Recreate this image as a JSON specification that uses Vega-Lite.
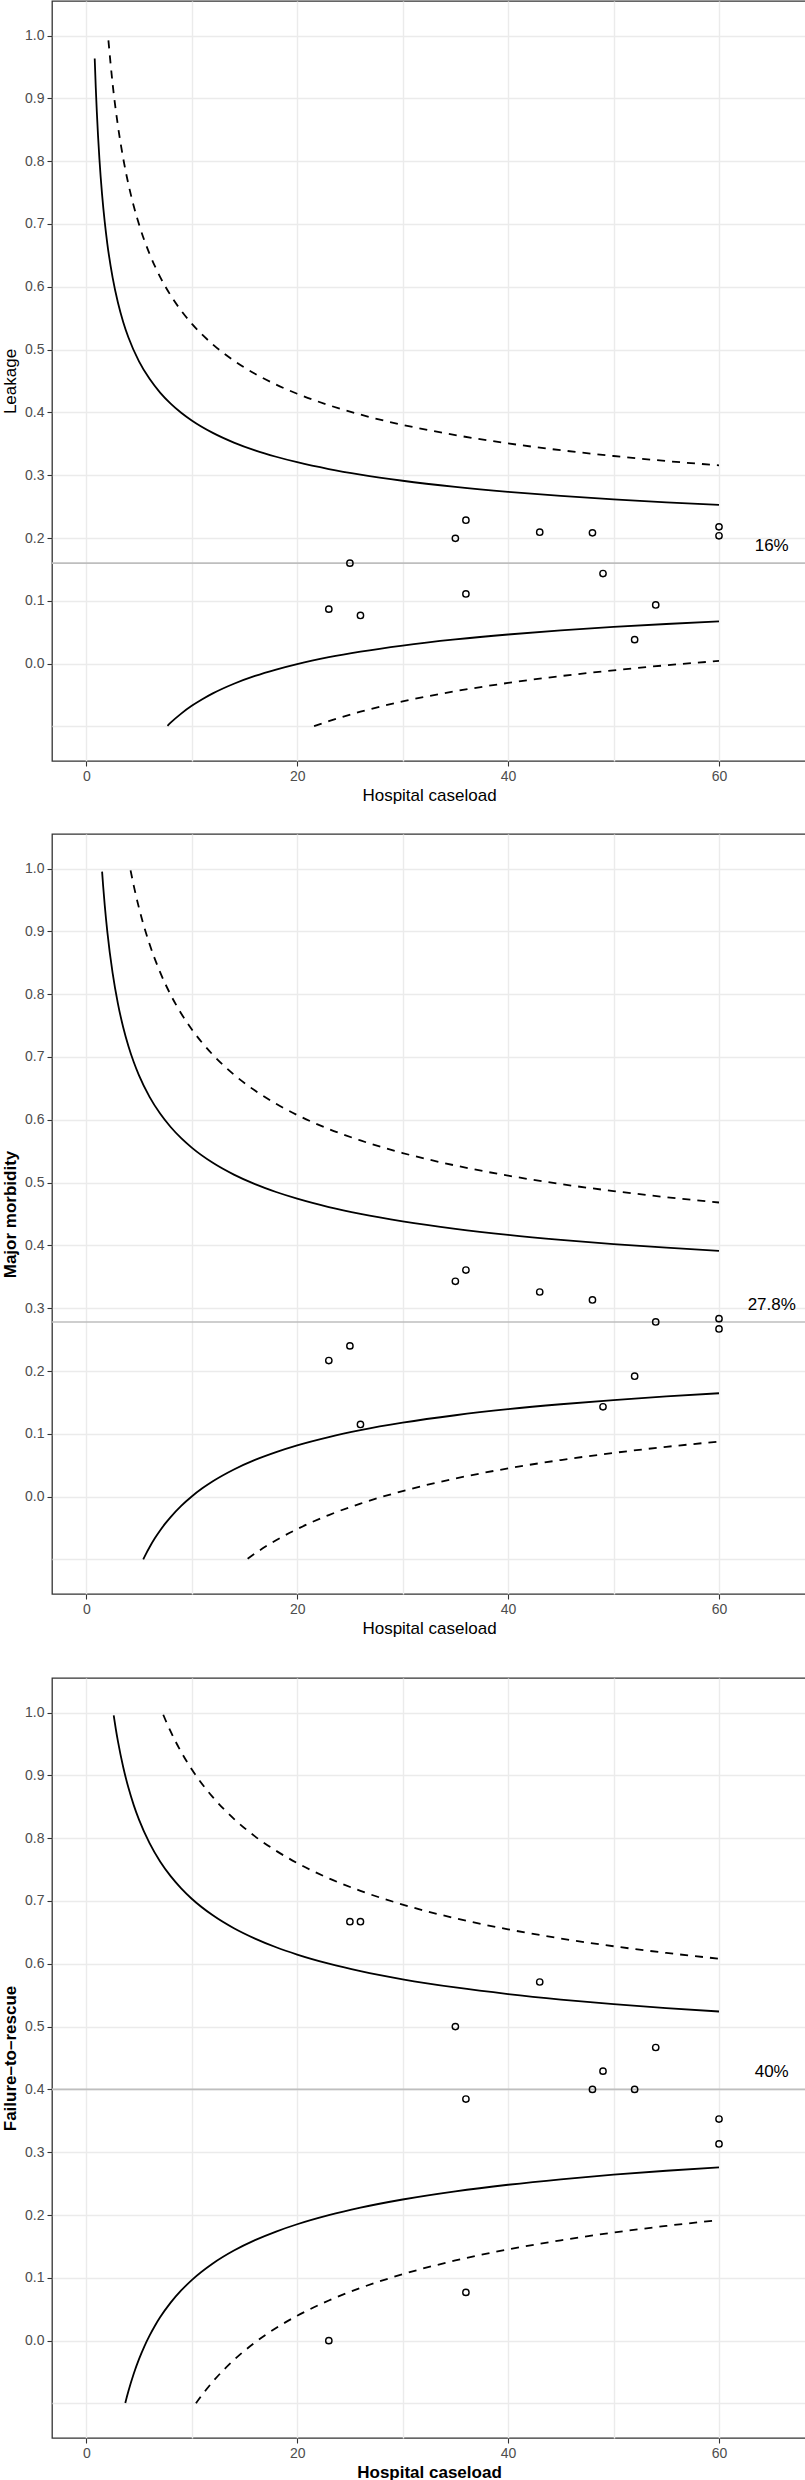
{
  "$schema": "https://vega.github.io/schema/vega-lite/v6.json",
  "padding": 0,
  "background": "white",
  "config": {
    "font": "Liberation Sans",
    "view": {"stroke": "#333333", "strokeWidth": 1.3},
    "axis": {
      "domain": false,
      "gridColor": "#EBEBEB",
      "gridWidth": 1.4,
      "tickColor": "#333333",
      "tickWidth": 1.1,
      "tickSize": 5,
      "labelColor": "#4D4D4D",
      "labelFont": "Liberation Sans",
      "labelFontSize": 14,
      "labelPadding": 3,
      "labelOverlap": false,
      "labelFlush": false,
      "titleFont": "Liberation Sans",
      "titleFontSize": 17,
      "titleFontWeight": "normal",
      "titleColor": "black",
      "titlePadding": 5
    }
  },
  "datasets": {
    "curves": [
      {"p":1,"c":"u95","n":0.8,"v":0.9634},{"p":1,"c":"u95","n":0.9,"v":0.9174},{"p":1,"c":"u95","n":1,"v":0.8786},{"p":1,"c":"u95","n":1.25,"v":0.8027},{"p":1,"c":"u95","n":1.5,"v":0.7467},{"p":1,"c":"u95","n":1.75,"v":0.7032},{"p":1,"c":"u95","n":2,"v":0.6681},{"p":1,"c":"u95","n":2.5,"v":0.6145},{"p":1,"c":"u95","n":3,"v":0.5749},{"p":1,"c":"u95","n":3.5,"v":0.5441},{"p":1,"c":"u95","n":4,"v":0.5193},{"p":1,"c":"u95","n":5,"v":0.4813},{"p":1,"c":"u95","n":6,"v":0.4534},{"p":1,"c":"u95","n":7,"v":0.4316},{"p":1,"c":"u95","n":8,"v":0.4140},{"p":1,"c":"u95","n":9,"v":0.3995},{"p":1,"c":"u95","n":10,"v":0.3872},{"p":1,"c":"u95","n":12,"v":0.3674},{"p":1,"c":"u95","n":14,"v":0.3520},{"p":1,"c":"u95","n":16,"v":0.3396},{"p":1,"c":"u95","n":18,"v":0.3294},{"p":1,"c":"u95","n":20,"v":0.3207},{"p":1,"c":"u95","n":23,"v":0.3098},{"p":1,"c":"u95","n":26,"v":0.3009},{"p":1,"c":"u95","n":30,"v":0.2912},{"p":1,"c":"u95","n":35,"v":0.2815},{"p":1,"c":"u95","n":40,"v":0.2736},{"p":1,"c":"u95","n":45,"v":0.2671},{"p":1,"c":"u95","n":50,"v":0.2616},{"p":1,"c":"u95","n":55,"v":0.2569},{"p":1,"c":"u95","n":60,"v":0.2528},
      {"p":1,"c":"l95","n":7.7,"v":-0.0990},{"p":1,"c":"l95","n":8,"v":-0.0940},{"p":1,"c":"l95","n":9,"v":-0.0795},{"p":1,"c":"l95","n":10,"v":-0.0672},{"p":1,"c":"l95","n":11,"v":-0.0567},{"p":1,"c":"l95","n":12,"v":-0.0474},{"p":1,"c":"l95","n":14,"v":-0.0320},{"p":1,"c":"l95","n":16,"v":-0.0196},{"p":1,"c":"l95","n":18,"v":-0.0094},{"p":1,"c":"l95","n":20,"v":-0.0007},{"p":1,"c":"l95","n":23,"v":0.0102},{"p":1,"c":"l95","n":26,"v":0.0191},{"p":1,"c":"l95","n":30,"v":0.0288},{"p":1,"c":"l95","n":35,"v":0.0385},{"p":1,"c":"l95","n":40,"v":0.0464},{"p":1,"c":"l95","n":45,"v":0.0529},{"p":1,"c":"l95","n":50,"v":0.0584},{"p":1,"c":"l95","n":55,"v":0.0631},{"p":1,"c":"l95","n":60,"v":0.0672},
      {"p":1,"c":"u999","n":2.1,"v":0.9923},{"p":1,"c":"u999","n":2.5,"v":0.9228},{"p":1,"c":"u999","n":3,"v":0.8564},{"p":1,"c":"u999","n":3.5,"v":0.8047},{"p":1,"c":"u999","n":4,"v":0.7631},{"p":1,"c":"u999","n":4.5,"v":0.7286},{"p":1,"c":"u999","n":5,"v":0.6994},{"p":1,"c":"u999","n":6,"v":0.6524},{"p":1,"c":"u999","n":7,"v":0.6159},{"p":1,"c":"u999","n":8,"v":0.5864},{"p":1,"c":"u999","n":9,"v":0.5620},{"p":1,"c":"u999","n":10,"v":0.5414},{"p":1,"c":"u999","n":12,"v":0.5082},{"p":1,"c":"u999","n":14,"v":0.4824},{"p":1,"c":"u999","n":16,"v":0.4615},{"p":1,"c":"u999","n":18,"v":0.4443},{"p":1,"c":"u999","n":20,"v":0.4297},{"p":1,"c":"u999","n":23,"v":0.4115},{"p":1,"c":"u999","n":26,"v":0.3965},{"p":1,"c":"u999","n":30,"v":0.3802},{"p":1,"c":"u999","n":35,"v":0.3639},{"p":1,"c":"u999","n":40,"v":0.3507},{"p":1,"c":"u999","n":45,"v":0.3398},{"p":1,"c":"u999","n":50,"v":0.3306},{"p":1,"c":"u999","n":55,"v":0.3226},{"p":1,"c":"u999","n":60,"v":0.3157},
      {"p":1,"c":"l999","n":21.6,"v":-0.0995},{"p":1,"c":"l999","n":23,"v":-0.0915},{"p":1,"c":"l999","n":26,"v":-0.0765},{"p":1,"c":"l999","n":30,"v":-0.0602},{"p":1,"c":"l999","n":35,"v":-0.0439},{"p":1,"c":"l999","n":40,"v":-0.0307},{"p":1,"c":"l999","n":45,"v":-0.0198},{"p":1,"c":"l999","n":50,"v":-0.0106},{"p":1,"c":"l999","n":55,"v":-0.0026},{"p":1,"c":"l999","n":60,"v":0.0043},

      {"p":2,"c":"u95","n":1.5,"v":0.9950},{"p":2,"c":"u95","n":1.6,"v":0.9722},{"p":2,"c":"u95","n":1.75,"v":0.9418},{"p":2,"c":"u95","n":2,"v":0.8989},{"p":2,"c":"u95","n":2.5,"v":0.8334},{"p":2,"c":"u95","n":3,"v":0.7850},{"p":2,"c":"u95","n":3.5,"v":0.7474},{"p":2,"c":"u95","n":4,"v":0.7171},{"p":2,"c":"u95","n":4.5,"v":0.6919},{"p":2,"c":"u95","n":5,"v":0.6707},{"p":2,"c":"u95","n":6,"v":0.6365},{"p":2,"c":"u95","n":7,"v":0.6099},{"p":2,"c":"u95","n":8,"v":0.5885},{"p":2,"c":"u95","n":9,"v":0.5707},{"p":2,"c":"u95","n":10,"v":0.5557},{"p":2,"c":"u95","n":12,"v":0.5315},{"p":2,"c":"u95","n":14,"v":0.5127},{"p":2,"c":"u95","n":16,"v":0.4975},{"p":2,"c":"u95","n":18,"v":0.4850},{"p":2,"c":"u95","n":20,"v":0.4744},{"p":2,"c":"u95","n":23,"v":0.4611},{"p":2,"c":"u95","n":26,"v":0.4502},{"p":2,"c":"u95","n":30,"v":0.4383},{"p":2,"c":"u95","n":35,"v":0.4264},{"p":2,"c":"u95","n":40,"v":0.4168},{"p":2,"c":"u95","n":45,"v":0.4089},{"p":2,"c":"u95","n":50,"v":0.4022},{"p":2,"c":"u95","n":55,"v":0.3964},{"p":2,"c":"u95","n":60,"v":0.3914},
      {"p":2,"c":"l95","n":5.4,"v":-0.0999},{"p":2,"c":"l95","n":5.7,"v":-0.0898},{"p":2,"c":"l95","n":6,"v":-0.0805},{"p":2,"c":"l95","n":6.5,"v":-0.0664},{"p":2,"c":"l95","n":7,"v":-0.0539},{"p":2,"c":"l95","n":7.5,"v":-0.0426},{"p":2,"c":"l95","n":8,"v":-0.0325},{"p":2,"c":"l95","n":9,"v":-0.0147},{"p":2,"c":"l95","n":10,"v":0.0003},{"p":2,"c":"l95","n":11,"v":0.0132},{"p":2,"c":"l95","n":12,"v":0.0245},{"p":2,"c":"l95","n":14,"v":0.0433},{"p":2,"c":"l95","n":16,"v":0.0585},{"p":2,"c":"l95","n":18,"v":0.0710},{"p":2,"c":"l95","n":20,"v":0.0817},{"p":2,"c":"l95","n":23,"v":0.0949},{"p":2,"c":"l95","n":26,"v":0.1058},{"p":2,"c":"l95","n":30,"v":0.1177},{"p":2,"c":"l95","n":35,"v":0.1296},{"p":2,"c":"l95","n":40,"v":0.1392},{"p":2,"c":"l95","n":45,"v":0.1471},{"p":2,"c":"l95","n":50,"v":0.1538},{"p":2,"c":"l95","n":55,"v":0.1596},{"p":2,"c":"l95","n":60,"v":0.1646},
      {"p":2,"c":"u999","n":4.2,"v":0.9972},{"p":2,"c":"u999","n":4.5,"v":0.9728},{"p":2,"c":"u999","n":5,"v":0.9372},{"p":2,"c":"u999","n":6,"v":0.8798},{"p":2,"c":"u999","n":7,"v":0.8351},{"p":2,"c":"u999","n":8,"v":0.7991},{"p":2,"c":"u999","n":9,"v":0.7693},{"p":2,"c":"u999","n":10,"v":0.7441},{"p":2,"c":"u999","n":12,"v":0.7035},{"p":2,"c":"u999","n":14,"v":0.6719},{"p":2,"c":"u999","n":16,"v":0.6465},{"p":2,"c":"u999","n":18,"v":0.6254},{"p":2,"c":"u999","n":20,"v":0.6076},{"p":2,"c":"u999","n":23,"v":0.5853},{"p":2,"c":"u999","n":26,"v":0.5671},{"p":2,"c":"u999","n":30,"v":0.5471},{"p":2,"c":"u999","n":35,"v":0.5272},{"p":2,"c":"u999","n":40,"v":0.5111},{"p":2,"c":"u999","n":45,"v":0.4977},{"p":2,"c":"u999","n":50,"v":0.4865},{"p":2,"c":"u999","n":55,"v":0.4768},{"p":2,"c":"u999","n":60,"v":0.4683},
      {"p":2,"c":"l999","n":15.3,"v":-0.0988},{"p":2,"c":"l999","n":16,"v":-0.0905},{"p":2,"c":"l999","n":17,"v":-0.0795},{"p":2,"c":"l999","n":18,"v":-0.0694},{"p":2,"c":"l999","n":20,"v":-0.0516},{"p":2,"c":"l999","n":23,"v":-0.0293},{"p":2,"c":"l999","n":26,"v":-0.0111},{"p":2,"c":"l999","n":30,"v":0.0089},{"p":2,"c":"l999","n":35,"v":0.0289},{"p":2,"c":"l999","n":40,"v":0.0450},{"p":2,"c":"l999","n":45,"v":0.0583},{"p":2,"c":"l999","n":50,"v":0.0696},{"p":2,"c":"l999","n":55,"v":0.0793},{"p":2,"c":"l999","n":60,"v":0.0877},

      {"p":3,"c":"u95","n":2.6,"v":0.9955},{"p":3,"c":"u95","n":2.8,"v":0.9738},{"p":3,"c":"u95","n":3,"v":0.9544},{"p":3,"c":"u95","n":3.5,"v":0.9133},{"p":3,"c":"u95","n":4,"v":0.8801},{"p":3,"c":"u95","n":4.5,"v":0.8526},{"p":3,"c":"u95","n":5,"v":0.8294},{"p":3,"c":"u95","n":6,"v":0.7920},{"p":3,"c":"u95","n":7,"v":0.7629},{"p":3,"c":"u95","n":8,"v":0.7395},{"p":3,"c":"u95","n":9,"v":0.7201},{"p":3,"c":"u95","n":10,"v":0.7036},{"p":3,"c":"u95","n":12,"v":0.6772},{"p":3,"c":"u95","n":14,"v":0.6566},{"p":3,"c":"u95","n":16,"v":0.6401},{"p":3,"c":"u95","n":18,"v":0.6263},{"p":3,"c":"u95","n":20,"v":0.6147},{"p":3,"c":"u95","n":23,"v":0.6002},{"p":3,"c":"u95","n":26,"v":0.5883},{"p":3,"c":"u95","n":30,"v":0.5753},{"p":3,"c":"u95","n":35,"v":0.5623},{"p":3,"c":"u95","n":40,"v":0.5518},{"p":3,"c":"u95","n":45,"v":0.5431},{"p":3,"c":"u95","n":50,"v":0.5358},{"p":3,"c":"u95","n":55,"v":0.5295},{"p":3,"c":"u95","n":60,"v":0.5240},
      {"p":3,"c":"l95","n":3.7,"v":-0.0992},{"p":3,"c":"l95","n":3.85,"v":-0.0894},{"p":3,"c":"l95","n":4,"v":-0.0801},{"p":3,"c":"l95","n":4.5,"v":-0.0526},{"p":3,"c":"l95","n":5,"v":-0.0294},{"p":3,"c":"l95","n":5.5,"v":-0.0094},{"p":3,"c":"l95","n":6,"v":0.0080},{"p":3,"c":"l95","n":6.5,"v":0.0234},{"p":3,"c":"l95","n":7,"v":0.0371},{"p":3,"c":"l95","n":8,"v":0.0605},{"p":3,"c":"l95","n":9,"v":0.0799},{"p":3,"c":"l95","n":10,"v":0.0964},{"p":3,"c":"l95","n":12,"v":0.1228},{"p":3,"c":"l95","n":14,"v":0.1434},{"p":3,"c":"l95","n":16,"v":0.1600},{"p":3,"c":"l95","n":18,"v":0.1737},{"p":3,"c":"l95","n":20,"v":0.1853},{"p":3,"c":"l95","n":23,"v":0.1998},{"p":3,"c":"l95","n":26,"v":0.2117},{"p":3,"c":"l95","n":30,"v":0.2247},{"p":3,"c":"l95","n":35,"v":0.2377},{"p":3,"c":"l95","n":40,"v":0.2482},{"p":3,"c":"l95","n":45,"v":0.2569},{"p":3,"c":"l95","n":50,"v":0.2642},{"p":3,"c":"l95","n":55,"v":0.2705},{"p":3,"c":"l95","n":60,"v":0.2760},
      {"p":3,"c":"u999","n":7.3,"v":0.9965},{"p":3,"c":"u999","n":7.6,"v":0.9847},{"p":3,"c":"u999","n":8,"v":0.9699},{"p":3,"c":"u999","n":9,"v":0.9373},{"p":3,"c":"u999","n":10,"v":0.9097},{"p":3,"c":"u999","n":12,"v":0.8653},{"p":3,"c":"u999","n":14,"v":0.8308},{"p":3,"c":"u999","n":16,"v":0.8029},{"p":3,"c":"u999","n":18,"v":0.7799},{"p":3,"c":"u999","n":20,"v":0.7604},{"p":3,"c":"u999","n":23,"v":0.7361},{"p":3,"c":"u999","n":26,"v":0.7161},{"p":3,"c":"u999","n":30,"v":0.6943},{"p":3,"c":"u999","n":35,"v":0.6724},{"p":3,"c":"u999","n":40,"v":0.6548},{"p":3,"c":"u999","n":45,"v":0.6403},{"p":3,"c":"u999","n":50,"v":0.6279},{"p":3,"c":"u999","n":55,"v":0.6173},{"p":3,"c":"u999","n":60,"v":0.6081},
      {"p":3,"c":"l999","n":10.4,"v":-0.0998},{"p":3,"c":"l999","n":11,"v":-0.0860},{"p":3,"c":"l999","n":12,"v":-0.0653},{"p":3,"c":"l999","n":14,"v":-0.0308},{"p":3,"c":"l999","n":16,"v":-0.0029},{"p":3,"c":"l999","n":18,"v":0.0201},{"p":3,"c":"l999","n":20,"v":0.0396},{"p":3,"c":"l999","n":23,"v":0.0639},{"p":3,"c":"l999","n":26,"v":0.0839},{"p":3,"c":"l999","n":30,"v":0.1057},{"p":3,"c":"l999","n":35,"v":0.1276},{"p":3,"c":"l999","n":40,"v":0.1452},{"p":3,"c":"l999","n":45,"v":0.1597},{"p":3,"c":"l999","n":50,"v":0.1721},{"p":3,"c":"l999","n":55,"v":0.1827},{"p":3,"c":"l999","n":60,"v":0.1919}
    ],
    "pts": [
      {"p":1,"n":23,"v":0.0868},{"p":1,"n":25,"v":0.16},{"p":1,"n":26,"v":0.0767},{"p":1,"n":35,"v":0.1995},{"p":1,"n":36,"v":0.2284},{"p":1,"n":36,"v":0.1110},{"p":1,"n":43,"v":0.2093},{"p":1,"n":48,"v":0.2082},{"p":1,"n":49,"v":0.1434},{"p":1,"n":52,"v":0.0382},{"p":1,"n":54,"v":0.0935},{"p":1,"n":60,"v":0.2178},{"p":1,"n":60,"v":0.2035},
      {"p":2,"n":23,"v":0.2167},{"p":2,"n":25,"v":0.24},{"p":2,"n":26,"v":0.115},{"p":2,"n":35,"v":0.3428},{"p":2,"n":36,"v":0.3608},{"p":2,"n":43,"v":0.3258},{"p":2,"n":48,"v":0.3131},{"p":2,"n":49,"v":0.143},{"p":2,"n":52,"v":0.1918},{"p":2,"n":54,"v":0.2781},{"p":2,"n":60,"v":0.2834},{"p":2,"n":60,"v":0.267},
      {"p":3,"n":23,"v":0.0},{"p":3,"n":25,"v":0.667},{"p":3,"n":26,"v":0.667},{"p":3,"n":35,"v":0.5},{"p":3,"n":36,"v":0.3846},{"p":3,"n":36,"v":0.0768},{"p":3,"n":43,"v":0.571},{"p":3,"n":48,"v":0.4},{"p":3,"n":49,"v":0.4291},{"p":3,"n":52,"v":0.4},{"p":3,"n":54,"v":0.4667},{"p":3,"n":60,"v":0.3528},{"p":3,"n":60,"v":0.3131}
    ],
    "means": [
      {"p":1,"m":0.16,"n":65,"v":0.188,"label":"16%"},
      {"p":2,"m":0.278,"n":65,"v":0.305,"label":"27.8%"},
      {"p":3,"m":0.40,"n":65,"v":0.427,"label":"40%"}
    ]
  },
  "vconcat": [
    {
      "spacing": 29,
      "vconcat": [
        {
          "width": 754, "height": 760,
          "layer": [
            {"data": {"name": "means"}, "transform": [{"filter": "datum.p == 1"}],
             "mark": {"type": "rule", "color": "#BEBEBE", "strokeWidth": 1.6},
             "encoding": {"y": {"field": "m", "type": "quantitative", "scale": {"domain": [-0.155, 1.055], "nice": false, "zero": false},
               "axis": {"title": "Leakage", "values": [-0.1,-0.05,0,0.05,0.1,0.15,0.2,0.25,0.3,0.35,0.4,0.45,0.5,0.55,0.6,0.65,0.7,0.75,0.8,0.85,0.9,0.95,1,1.05],
                 "labelExpr": "(datum.value > -0.001 && datum.value < 1.001 && abs(datum.value*10 - round(datum.value*10)) < 0.001) ? format(datum.value, '.1f') : ''",
                 "tickOpacity": {"condition": {"test": "datum.value > -0.001 && datum.value < 1.001 && abs(datum.value*10 - round(datum.value*10)) < 0.001", "value": 1}, "value": 0}}}}},
            {"data": {"name": "curves"}, "transform": [{"filter": "datum.p == 1 && (datum.c == 'u95' || datum.c == 'l95')"}],
             "mark": {"type": "line", "color": "black", "strokeWidth": 1.8, "interpolate": "monotone"},
             "encoding": {
               "x": {"field": "n", "type": "quantitative", "scale": {"domain": [-3.25, 68.25], "nice": false, "zero": false},
                 "axis": {"title": "Hospital caseload", "values": [0,10,20,30,40,50,60], "labelExpr": "datum.value % 20 == 0 ? datum.label : ''",
                   "tickOpacity": {"condition": {"test": "datum.value % 20 == 0", "value": 1}, "value": 0}, "titlePadding": 4}},
               "y": {"field": "v", "type": "quantitative", "scale": {"domain": [-0.155, 1.055], "nice": false, "zero": false}},
               "detail": {"field": "c"}, "order": {"field": "n", "type": "quantitative"}}},
            {"data": {"name": "curves"}, "transform": [{"filter": "datum.p == 1 && (datum.c == 'u999' || datum.c == 'l999')"}],
             "mark": {"type": "line", "color": "black", "strokeWidth": 1.8, "strokeDash": [8, 7], "interpolate": "monotone"},
             "encoding": {
               "x": {"field": "n", "type": "quantitative", "scale": {"domain": [-3.25, 68.25], "nice": false, "zero": false}},
               "y": {"field": "v", "type": "quantitative", "scale": {"domain": [-0.155, 1.055], "nice": false, "zero": false}},
               "detail": {"field": "c"}, "order": {"field": "n", "type": "quantitative"}}},
            {"data": {"name": "pts"}, "transform": [{"filter": "datum.p == 1"}],
             "mark": {"type": "point", "shape": "circle", "filled": false, "color": "black", "strokeWidth": 1.4, "size": 40, "opacity": 1},
             "encoding": {
               "x": {"field": "n", "type": "quantitative", "scale": {"domain": [-3.25, 68.25], "nice": false, "zero": false}},
               "y": {"field": "v", "type": "quantitative", "scale": {"domain": [-0.155, 1.055], "nice": false, "zero": false}}}},
            {"data": {"name": "means"}, "transform": [{"filter": "datum.p == 1"}],
             "mark": {"type": "text", "fontSize": 17, "color": "black", "font": "Liberation Sans"},
             "encoding": {
               "x": {"field": "n", "type": "quantitative", "scale": {"domain": [-3.25, 68.25], "nice": false, "zero": false}},
               "y": {"field": "v", "type": "quantitative", "scale": {"domain": [-0.155, 1.055], "nice": false, "zero": false}},
               "text": {"field": "label"}}}
          ]
        },
        {
          "width": 754, "height": 760,
          "layer": [
            {"data": {"name": "means"}, "transform": [{"filter": "datum.p == 2"}],
             "mark": {"type": "rule", "color": "#BEBEBE", "strokeWidth": 1.6},
             "encoding": {"y": {"field": "m", "type": "quantitative", "scale": {"domain": [-0.155, 1.055], "nice": false, "zero": false},
               "axis": {"title": "Major morbidity", "titleFontWeight": "bold", "values": [-0.1,-0.05,0,0.05,0.1,0.15,0.2,0.25,0.3,0.35,0.4,0.45,0.5,0.55,0.6,0.65,0.7,0.75,0.8,0.85,0.9,0.95,1,1.05],
                 "labelExpr": "(datum.value > -0.001 && datum.value < 1.001 && abs(datum.value*10 - round(datum.value*10)) < 0.001) ? format(datum.value, '.1f') : ''",
                 "tickOpacity": {"condition": {"test": "datum.value > -0.001 && datum.value < 1.001 && abs(datum.value*10 - round(datum.value*10)) < 0.001", "value": 1}, "value": 0}}}}},
            {"data": {"name": "curves"}, "transform": [{"filter": "datum.p == 2 && (datum.c == 'u95' || datum.c == 'l95')"}],
             "mark": {"type": "line", "color": "black", "strokeWidth": 1.8, "interpolate": "monotone"},
             "encoding": {
               "x": {"field": "n", "type": "quantitative", "scale": {"domain": [-3.25, 68.25], "nice": false, "zero": false},
                 "axis": {"title": "Hospital caseload", "values": [0,10,20,30,40,50,60], "labelExpr": "datum.value % 20 == 0 ? datum.label : ''",
                   "tickOpacity": {"condition": {"test": "datum.value % 20 == 0", "value": 1}, "value": 0}, "titlePadding": 4}},
               "y": {"field": "v", "type": "quantitative", "scale": {"domain": [-0.155, 1.055], "nice": false, "zero": false}},
               "detail": {"field": "c"}, "order": {"field": "n", "type": "quantitative"}}},
            {"data": {"name": "curves"}, "transform": [{"filter": "datum.p == 2 && (datum.c == 'u999' || datum.c == 'l999')"}],
             "mark": {"type": "line", "color": "black", "strokeWidth": 1.8, "strokeDash": [8, 7], "interpolate": "monotone"},
             "encoding": {
               "x": {"field": "n", "type": "quantitative", "scale": {"domain": [-3.25, 68.25], "nice": false, "zero": false}},
               "y": {"field": "v", "type": "quantitative", "scale": {"domain": [-0.155, 1.055], "nice": false, "zero": false}},
               "detail": {"field": "c"}, "order": {"field": "n", "type": "quantitative"}}},
            {"data": {"name": "pts"}, "transform": [{"filter": "datum.p == 2"}],
             "mark": {"type": "point", "shape": "circle", "filled": false, "color": "black", "strokeWidth": 1.4, "size": 40, "opacity": 1},
             "encoding": {
               "x": {"field": "n", "type": "quantitative", "scale": {"domain": [-3.25, 68.25], "nice": false, "zero": false}},
               "y": {"field": "v", "type": "quantitative", "scale": {"domain": [-0.155, 1.055], "nice": false, "zero": false}}}},
            {"data": {"name": "means"}, "transform": [{"filter": "datum.p == 2"}],
             "mark": {"type": "text", "fontSize": 17, "color": "black", "font": "Liberation Sans"},
             "encoding": {
               "x": {"field": "n", "type": "quantitative", "scale": {"domain": [-3.25, 68.25], "nice": false, "zero": false}},
               "y": {"field": "v", "type": "quantitative", "scale": {"domain": [-0.155, 1.055], "nice": false, "zero": false}},
               "text": {"field": "label"}}}
          ]
        }
      ]
    },
    {
      "width": 754, "height": 760,
      "layer": [
        {"data": {"name": "means"}, "transform": [{"filter": "datum.p == 3"}],
         "mark": {"type": "rule", "color": "#BEBEBE", "strokeWidth": 1.6},
         "encoding": {"y": {"field": "m", "type": "quantitative", "scale": {"domain": [-0.155, 1.055], "nice": false, "zero": false},
           "axis": {"title": "Failure–to–rescue", "titleFontWeight": "bold", "values": [-0.1,-0.05,0,0.05,0.1,0.15,0.2,0.25,0.3,0.35,0.4,0.45,0.5,0.55,0.6,0.65,0.7,0.75,0.8,0.85,0.9,0.95,1,1.05],
             "labelExpr": "(datum.value > -0.001 && datum.value < 1.001 && abs(datum.value*10 - round(datum.value*10)) < 0.001) ? format(datum.value, '.1f') : ''",
             "tickOpacity": {"condition": {"test": "datum.value > -0.001 && datum.value < 1.001 && abs(datum.value*10 - round(datum.value*10)) < 0.001", "value": 1}, "value": 0}}}}},
        {"data": {"name": "curves"}, "transform": [{"filter": "datum.p == 3 && (datum.c == 'u95' || datum.c == 'l95')"}],
         "mark": {"type": "line", "color": "black", "strokeWidth": 1.8, "interpolate": "monotone"},
         "encoding": {
           "x": {"field": "n", "type": "quantitative", "scale": {"domain": [-3.25, 68.25], "nice": false, "zero": false},
             "axis": {"title": "Hospital caseload", "titleFontWeight": "bold", "values": [0,10,20,30,40,50,60], "labelExpr": "datum.value % 20 == 0 ? datum.label : ''",
               "tickOpacity": {"condition": {"test": "datum.value % 20 == 0", "value": 1}, "value": 0}, "titlePadding": 4}},
           "y": {"field": "v", "type": "quantitative", "scale": {"domain": [-0.155, 1.055], "nice": false, "zero": false}},
           "detail": {"field": "c"}, "order": {"field": "n", "type": "quantitative"}}},
        {"data": {"name": "curves"}, "transform": [{"filter": "datum.p == 3 && (datum.c == 'u999' || datum.c == 'l999')"}],
         "mark": {"type": "line", "color": "black", "strokeWidth": 1.8, "strokeDash": [8, 7], "interpolate": "monotone"},
         "encoding": {
           "x": {"field": "n", "type": "quantitative", "scale": {"domain": [-3.25, 68.25], "nice": false, "zero": false}},
           "y": {"field": "v", "type": "quantitative", "scale": {"domain": [-0.155, 1.055], "nice": false, "zero": false}},
           "detail": {"field": "c"}, "order": {"field": "n", "type": "quantitative"}}},
        {"data": {"name": "pts"}, "transform": [{"filter": "datum.p == 3"}],
         "mark": {"type": "point", "shape": "circle", "filled": false, "color": "black", "strokeWidth": 1.4, "size": 40, "opacity": 1},
         "encoding": {
           "x": {"field": "n", "type": "quantitative", "scale": {"domain": [-3.25, 68.25], "nice": false, "zero": false}},
           "y": {"field": "v", "type": "quantitative", "scale": {"domain": [-0.155, 1.055], "nice": false, "zero": false}}}},
        {"data": {"name": "means"}, "transform": [{"filter": "datum.p == 3"}],
         "mark": {"type": "text", "fontSize": 17, "color": "black", "font": "Liberation Sans"},
         "encoding": {
           "x": {"field": "n", "type": "quantitative", "scale": {"domain": [-3.25, 68.25], "nice": false, "zero": false}},
           "y": {"field": "v", "type": "quantitative", "scale": {"domain": [-0.155, 1.055], "nice": false, "zero": false}},
           "text": {"field": "label"}}}
      ]
    }
  ],
  "spacing": 40
}
